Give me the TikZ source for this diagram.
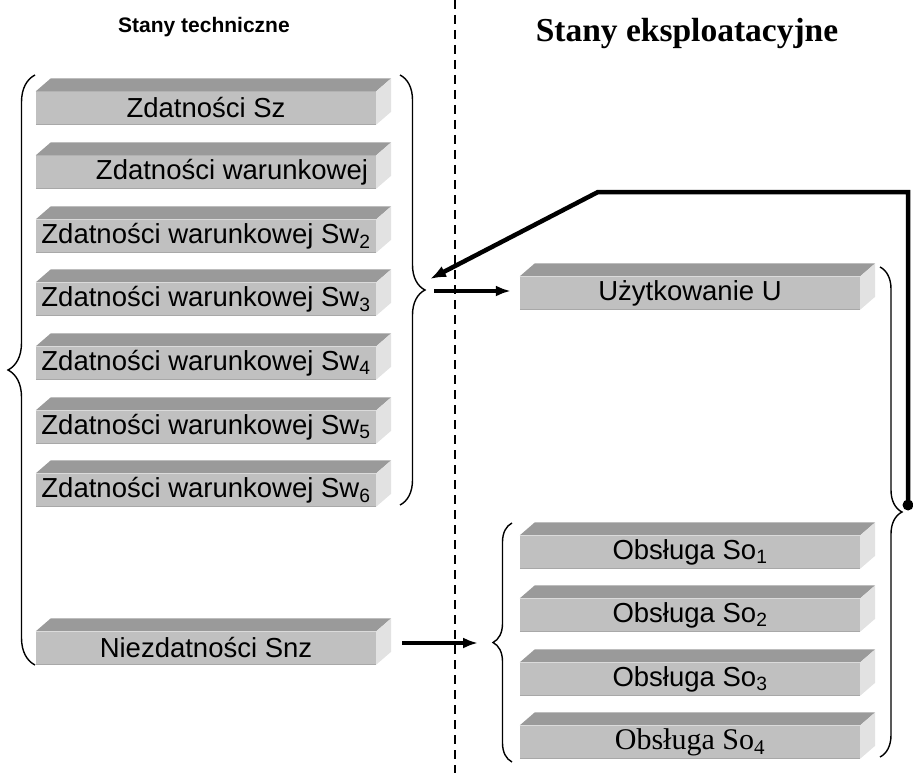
\documentclass[tikz,border=0pt]{standalone}
\usepackage{fontspec}
\setmainfont{Liberation Sans}
\newfontfamily\timesfont{Liberation Serif}
\usetikzlibrary{arrows.meta,decorations.pathreplacing}

\definecolor{slabfront}{HTML}{C0C0C0}
\definecolor{slabtop}{HTML}{9A9A9A}
\definecolor{slabside}{HTML}{E2E2E2}
\definecolor{slabedge}{HTML}{A8A8A8}

\tikzset{
  slab/.style={fill=slabfront, minimum width=340pt, minimum height=33pt, inner sep=0pt,
    font=\fontsize{27.5}{30}\selectfont},
  bracket/.style={decorate, decoration={brace, amplitude=#1, aspect=0.5}, line width=1.4pt},
  arr/.style={-{Latex[length=15pt,width=11pt]}, line width=3.5pt},
  feedback/.style={line width=4.5pt, line join=miter}
}

\begin{document}
\begin{tikzpicture}[x=1pt,y=-1pt]
\useasboundingbox (0,0) rectangle (913,773);
\coordinate (divtop) at (455,0);
\coordinate (divbot) at (455,773);
\draw[line width=1.4pt, dash pattern=on 9pt off 6pt] (divtop) -- (divbot);
\node[font=\bfseries\fontsize{21}{24}\selectfont] (ttech) at (204,27) {Stany techniczne};
\node[font=\timesfont\bfseries\fontsize{33.5}{36}\selectfont] (texpl) at (687,33) {Stany eksploatacyjne};
\foreach \n/\y/\txt in {sz/108/{Zdatności Sz},sw1/172/{\hspace*{52pt}Zdatności warunkowej},
  sw2/236/{Zdatności warunkowej Sw\textsubscript{2}},sw3/299/{Zdatności warunkowej Sw\textsubscript{3}},
  sw4/363/{Zdatności warunkowej Sw\textsubscript{4}},sw5/427/{Zdatności warunkowej Sw\textsubscript{5}},
  sw6/490/{Zdatności warunkowej Sw\textsubscript{6}},snz/648/{Niezdatności Snz}}
  \node[slab] (\n) at (206,\y) {\raisebox{-2pt}{\txt}};
\foreach \n/\y/\txt in {u/293/{Użytkowanie U},so1/552/{Obsługa So\textsubscript{1}},
  so2/615/{Obsługa So\textsubscript{2}},so3/679/{Obsługa So\textsubscript{3}},
  so4/742/{\timesfont\fontsize{30}{32}\selectfont\raisebox{-2pt}{Obsługa So\textsubscript{4}}}}
  \node[slab] (\n) at (690,\y) {\raisebox{-2pt}{\txt}};
\foreach \n in {sz,sw1,sw2,sw3,sw4,sw5,sw6,snz,u,so1,so2,so3,so4}{
  \fill[slabtop] (\n.north west) -- ++(15,-13) -- ([shift={(15,-13)}]\n.north east) -- (\n.north east) -- cycle;
  \fill[slabside] (\n.north east) -- ++(15,-13) -- ([shift={(15,-13)}]\n.south east) -- (\n.south east) -- cycle;
  \draw[slabedge, line width=1.5pt] (\n.south west) -- (\n.south east);
}
\draw[bracket=27pt] (35,665) -- (35,75);
\draw[bracket=25pt] (400,75) -- (400,505);
\draw[bracket=22pt] (880,267) -- (880,757);
\draw[bracket=19pt] (512,762) -- (512,523);
\coordinate (techtip) at (434,291);
\coordinate (techin) at (430,279);
\coordinate (sotip) at (478,643);
\coordinate (snzout) at (402,643);
\coordinate (udot) at (908,505);
\coordinate (bend) at (598,192);
\draw[arr, shorten >=9pt] (techtip) -- (u.west |- techtip);
\draw[arr] (snzout) -- (sotip);
\fill (udot) circle (5.5);
\draw[feedback, -{Latex[length=16pt,width=12pt]}] (udot) |- (bend) -- (techin);
\end{tikzpicture}
\end{document}
